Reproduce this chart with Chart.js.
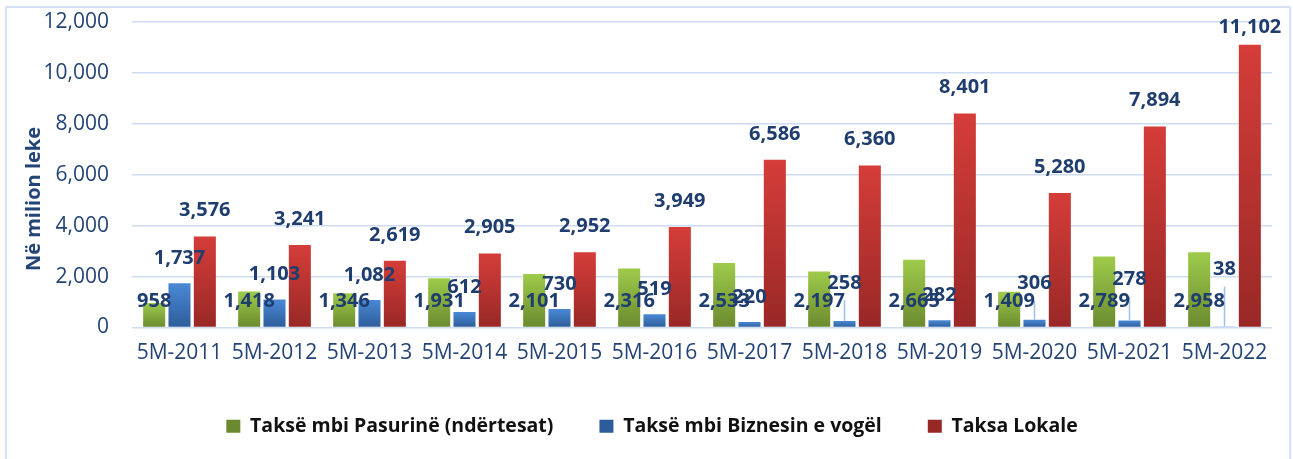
<!DOCTYPE html>
<html>
<head>
<meta charset="utf-8">
<script src="https://cdn.jsdelivr.net/npm/chart.js@4.4.1/dist/chart.umd.min.js"></script>
<style>
html,body{margin:0;padding:0;background:#fff;}
canvas{display:block;}
</style>
</head>
<body>
<canvas id="c" width="1293" height="459"></canvas>
<script>
const categories = ['5M-2011','5M-2012','5M-2013','5M-2014','5M-2015','5M-2016','5M-2017','5M-2018','5M-2019','5M-2020','5M-2021','5M-2022'];
const seriesNames = ['Taksë mbi Pasurinë (ndërtesat)', 'Taksë mbi Biznesin e vogël', 'Taksa Lokale'];
const propertyTax = [958,1418,1346,1931,2101,2316,2533,2197,2665,1409,2789,2958];
const smallBusinessTax = [1737,1103,1082,612,730,519,220,258,282,306,278,38];
const localFees = [3576,3241,2619,2905,2952,3949,6586,6360,8401,5280,7894,11102];
const yTicks = [0,2000,4000,6000,8000,10000,12000];
const yTitle = 'Në milion leke';

const fmt = v => v.toLocaleString('en-US');

// label placement (pixels above bar top / above the zero line)
const labelCfg = {
  fromBase: [true, false, false],
  defaultLift: [26, 25, 26],
  lift: [{}, { 7: 38, 9: 36, 10: 41, 11: 57 }, { 11: 18 }],
  leader: [[], [7, 9, 10, 11], []]
};

function grad(top, bottom) {
  return (c) => {
    const chart = c.chart;
    if (c.type !== 'data' || !chart.chartArea || !chart.scales.y) return top;
    const ys = chart.scales.y;
    const yT = ys.getPixelForValue(c.raw), yB = ys.getPixelForValue(0);
    if (!isFinite(yT) || !isFinite(yB) || yB - yT < 1) return top;
    const g = chart.ctx.createLinearGradient(0, yT, 0, yB);
    g.addColorStop(0, top); g.addColorStop(1, bottom);
    return g;
  };
}

const frame = {
  id: 'frame',
  beforeDraw(chart) {
    const ctx = chart.ctx;
    ctx.save();
    ctx.strokeStyle = '#d6e3f4';
    ctx.lineWidth = 2;
    ctx.beginPath();
    ctx.moveTo(6, 470); ctx.lineTo(6, 7); ctx.lineTo(1290, 7); ctx.lineTo(1290, 470);
    ctx.stroke();
    ctx.restore();
  },
  afterDraw(chart) {
    const ctx = chart.ctx;
    ctx.save();
    ctx.translate(34, 199);
    ctx.rotate(-Math.PI / 2);
    ctx.font = 'bold 20px "Open Sans"';
    ctx.fillStyle = '#244476';
    ctx.textAlign = 'center';
    ctx.textBaseline = 'middle';
    ctx.fillText(yTitle, 0, 0);
    ctx.restore();
  }
};

const valueLabels = {
  id: 'valueLabels',
  afterDatasetsDraw(chart) {
    const ctx = chart.ctx;
    const y0 = chart.scales.y.getPixelForValue(0);
    const pos = (di, i, el) => {
      const l = labelCfg.lift[di][i];
      const lift = (typeof l === 'number') ? l : labelCfg.defaultLift[di];
      return labelCfg.fromBase[di] ? y0 - lift : el.y - lift;
    };
    ctx.save();
    chart.data.datasets.forEach((ds, di) => {
      chart.getDatasetMeta(di).data.forEach((el, i) => {
        if (labelCfg.leader[di].includes(i)) {
          const y = pos(di, i, el);
          ctx.strokeStyle = '#9fc1e6';
          ctx.lineWidth = 1.5;
          ctx.beginPath();
          ctx.moveTo(el.x, el.y);
          ctx.lineTo(el.x, y + 17);
          ctx.stroke();
        }
      });
    });
    ctx.font = 'bold 20px "Open Sans"';
    ctx.fillStyle = '#1f3d6e';
    ctx.textAlign = 'center';
    ctx.textBaseline = 'middle';
    chart.data.datasets.forEach((ds, di) => {
      chart.getDatasetMeta(di).data.forEach((el, i) => {
        ctx.fillText(fmt(ds.data[i]), el.x, pos(di, i, el));
      });
    });
    ctx.restore();
  }
};

new Chart(document.getElementById('c'), {
  type: 'bar',
  data: {
    labels: categories,
    datasets: [
      { label: seriesNames[0], data: propertyTax, backgroundColor: grad('#9ecb4b', '#6b8a2f'), borderWidth: 0 },
      { label: seriesNames[1], data: smallBusinessTax, backgroundColor: grad('#4a89d6', '#2d5c9a'), borderWidth: 0 },
      { label: seriesNames[2], data: localFees, backgroundColor: grad('#d53d39', '#982826'), borderWidth: 0 }
    ]
  },
  options: {
    responsive: false,
    animation: false,
    devicePixelRatio: 1,
    datasets: { bar: { categoryPercentage: 0.8, barPercentage: 0.87 } },
    layout: { padding: { left: 32, right: 21, top: 22, bottom: 13 } },
    scales: {
      x: {
        grid: { display: false, drawTicks: false },
        border: { display: false },
        ticks: { color: '#244476', font: { family: 'Open Sans', size: 21 }, padding: 13, maxRotation: 0, autoSkip: false },
        afterFit(s) { s.height = 43; }
      },
      y: {
        min: 0, max: 12000,
        afterBuildTicks(s) { s.ticks = yTicks.map(v => ({ value: v })); },
        grid: { color: '#cddcf0', lineWidth: 1.5, drawTicks: true, tickLength: 23, tickColor: 'rgba(0,0,0,0)' },
        border: { display: false },
        ticks: { color: '#244476', font: { family: 'Open Sans', size: 21 }, padding: 0, callback: v => fmt(v) },
        afterFit(s) { s.width = 100; }
      }
    },
    plugins: {
      tooltip: { enabled: false },
      legend: {
        position: 'bottom',
        labels: {
          color: '#111',
          font: { family: 'Open Sans', size: 19.5, weight: 'bold' },
          boxWidth: 14, boxHeight: 13,
          padding: 46
        }
      }
    }
  },
  plugins: [frame, valueLabels]
});
</script>
</body>
</html>
